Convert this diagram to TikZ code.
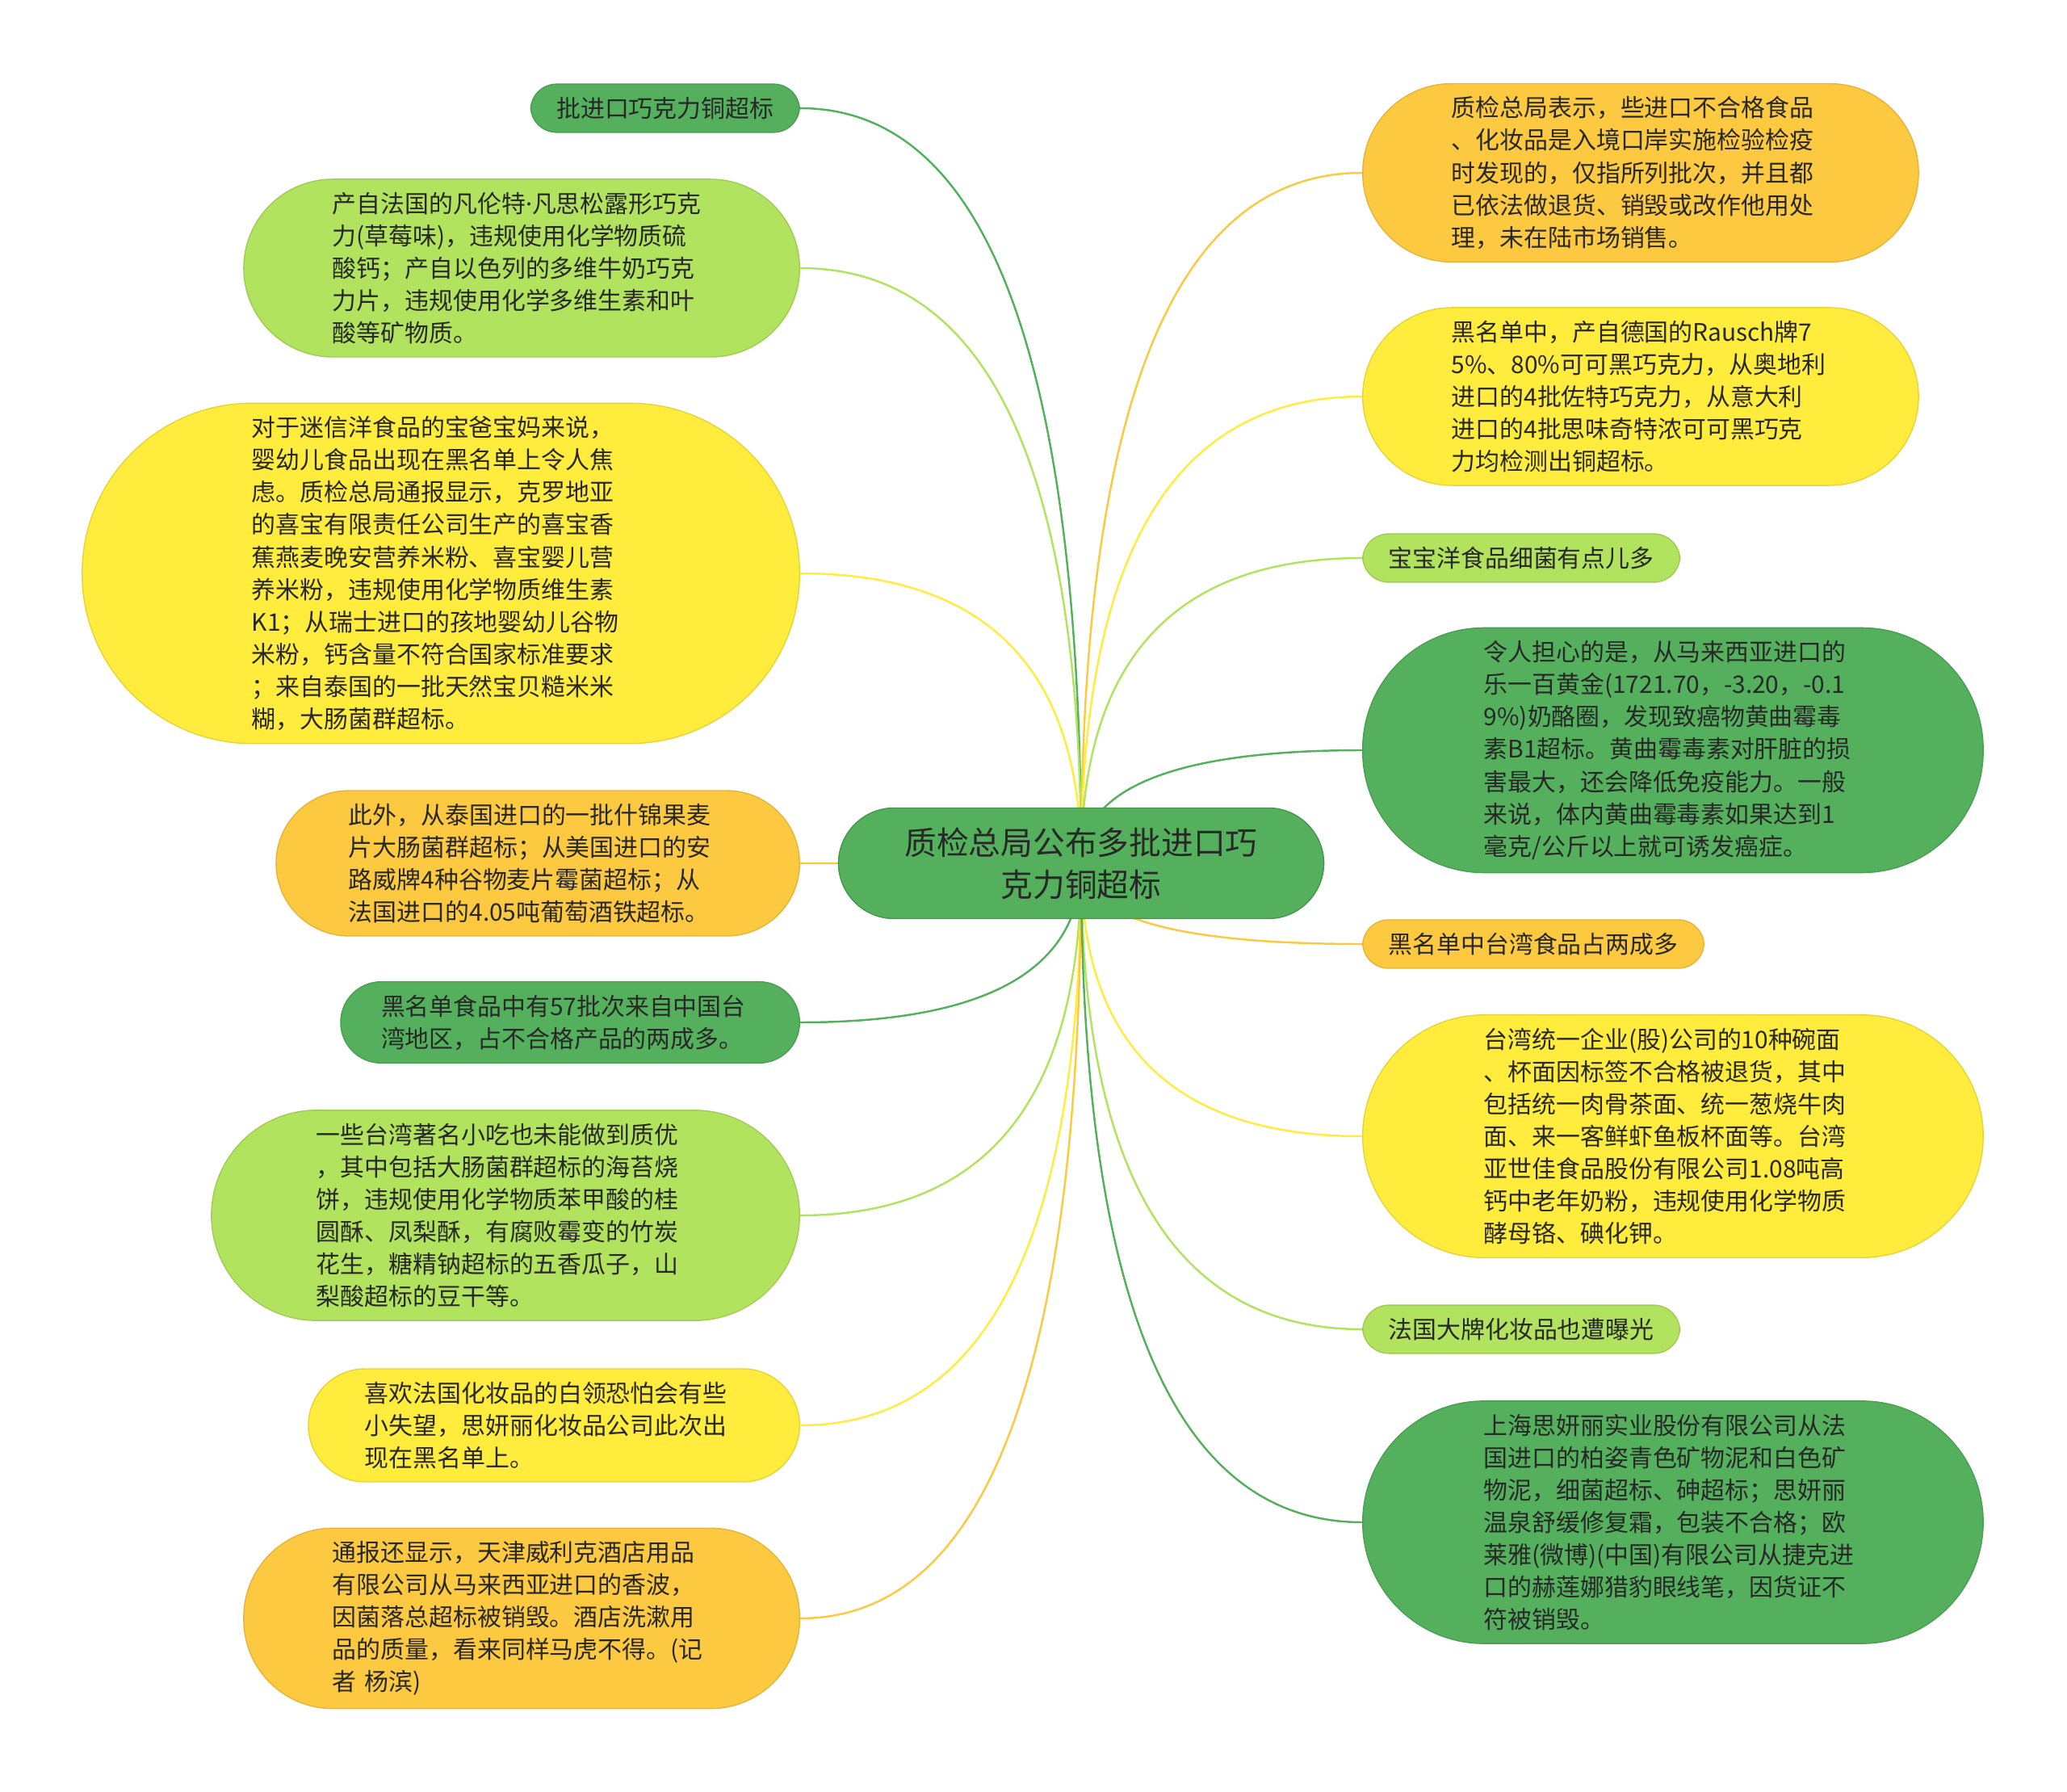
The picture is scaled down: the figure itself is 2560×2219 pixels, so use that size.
\documentclass[tikz,border=0pt]{standalone}
\usepackage{fontspec}
\setmainfont{Noto Sans CJK SC}
\newfontfamily\latinfont{Noto Sans}
\usepackage{tikz}
\usetikzlibrary{positioning, calc, backgrounds}
\usepackage{xcolor}
\definecolor{mgreen}{RGB}{84,176,92}
\definecolor{lgreen}{RGB}{178,227,94}
\definecolor{myellow}{RGB}{255,236,61}
\definecolor{morange}{RGB}{252,201,64}
\definecolor{ink}{RGB}{40,40,40}

\begin{document}
\begin{tikzpicture}[x=0.01cm, y=-0.01cm,
  leaf/.style={rectangle, rounded corners=#1, inner xsep=#1, inner ysep=0.16cm, align=left,
    text=ink, font=\fontsize{8.5}{11.4}\selectfont},
  wide/.style={text width=4.68cm},
  topic/.style={rectangle, rounded corners=0.69cm, inner xsep=0.82cm, inner ysep=0.24cm, align=center,
    text=ink, font=\fontsize{11.3}{14.8}\selectfont, fill=mgreen, draw=mgreen!85!black},
  gr/.style={fill=mgreen, draw=mgreen!90!black},
  lg/.style={fill=lgreen, draw=lgreen!90!black},
  ye/.style={fill=myellow, draw=myellow!90!black},
  or/.style={fill=morange, draw=morange!90!black},
  link/.style={line width=0.7pt}]
  \useasboundingbox (0,0) rectangle (2560,2219);

  % centre
  \node[topic] (root) at (1339,1069) {质检总局公布多批进口巧\\克力铜超标};

  % left branches
  \node[leaf=0.32cm, gr, anchor=east] (l1) at (991,134) {批进口巧克力铜超标};
  \node[leaf=1.10cm, wide, lg, anchor=east] (l2) at (991,332) {产自法国的凡伦特{\latinfont ·}凡思松露形巧克\\力(草莓味)，违规使用化学物质硫\\酸钙；产自以色列的多维牛奶巧克\\力片，违规使用化学多维生素和叶\\酸等矿物质。};
  \node[leaf=2.10cm, wide, ye, anchor=east] (l3) at (991,710) {对于迷信洋食品的宝爸宝妈来说，\\婴幼儿食品出现在黑名单上令人焦\\虑。质检总局通报显示，克罗地亚\\的喜宝有限责任公司生产的喜宝香\\蕉燕麦晚安营养米粉、喜宝婴儿营\\养米粉，违规使用化学物质维生素\\K1；从瑞士进口的孩地婴幼儿谷物\\米粉，钙含量不符合国家标准要求\\；来自泰国的一批天然宝贝糙米米\\糊，大肠菌群超标。};
  \node[leaf=0.90cm, wide, or, anchor=east] (l4) at (991,1069) {此外，从泰国进口的一批什锦果麦\\片大肠菌群超标；从美国进口的安\\路威牌4种谷物麦片霉菌超标；从\\法国进口的4.05吨葡萄酒铁超标。};
  \node[leaf=0.50cm, wide, gr, anchor=east] (l5) at (991,1266) {黑名单食品中有57批次来自中国台\\湾地区，占不合格产品的两成多。};
  \node[leaf=1.30cm, wide, lg, anchor=east] (l6) at (991,1505) {一些台湾著名小吃也未能做到质优\\，其中包括大肠菌群超标的海苔烧\\饼，违规使用化学物质苯甲酸的桂\\圆酥、凤梨酥，有腐败霉变的竹炭\\花生，糖精钠超标的五香瓜子，山\\梨酸超标的豆干等。};
  \node[leaf=0.70cm, wide, ye, anchor=east] (l7) at (991,1765) {喜欢法国化妆品的白领恐怕会有些\\小失望，思妍丽化妆品公司此次出\\现在黑名单上。};
  \node[leaf=1.10cm, wide, or, anchor=east] (l8) at (991,2004) {通报还显示，天津威利克酒店用品\\有限公司从马来西亚进口的香波，\\因菌落总超标被销毁。酒店洗漱用\\品的质量，看来同样马虎不得。(记\\者 杨滨)};

  % right branches
  \node[leaf=1.10cm, wide, or, anchor=west] (r1) at (1687,214) {质检总局表示，些进口不合格食品\\、化妆品是入境口岸实施检验检疫\\时发现的，仅指所列批次，并且都\\已依法做退货、销毁或改作他用处\\理，未在陆市场销售。};
  \node[leaf=1.10cm, wide, ye, anchor=west] (r2) at (1687,491) {黑名单中，产自德国的Rausch牌7\\5\%、80\%可可黑巧克力，从奥地利\\进口的4批佐特巧克力，从意大利\\进口的4批思味奇特浓可可黑巧克\\力均检测出铜超标。};
  \node[leaf=0.32cm, lg, anchor=west] (r3) at (1687,691) {宝宝洋食品细菌有点儿多};
  \node[leaf=1.50cm, wide, gr, anchor=west] (r4) at (1687,929) {令人担心的是，从马来西亚进口的\\乐一百黄金(1721.70，-3.20，-0.1\\9\%)奶酪圈，发现致癌物黄曲霉毒\\素B1超标。黄曲霉毒素对肝脏的损\\害最大，还会降低免疫能力。一般\\来说，体内黄曲霉毒素如果达到1\\毫克/公斤以上就可诱发癌症。};
  \node[leaf=0.32cm, or, anchor=west] (r5) at (1687,1169) {黑名单中台湾食品占两成多};
  \node[leaf=1.50cm, wide, ye, anchor=west] (r6) at (1687,1407) {台湾统一企业(股)公司的10种碗面\\、杯面因标签不合格被退货，其中\\包括统一肉骨茶面、统一葱烧牛肉\\面、来一客鲜虾鱼板杯面等。台湾\\亚世佳食品股份有限公司1.08吨高\\钙中老年奶粉，违规使用化学物质\\酵母铬、碘化钾。};
  \node[leaf=0.32cm, lg, anchor=west] (r7) at (1687,1646) {法国大牌化妆品也遭曝光};
  \node[leaf=1.50cm, wide, gr, anchor=west] (r8) at (1687,1885) {上海思妍丽实业股份有限公司从法\\国进口的柏姿青色矿物泥和白色矿\\物泥，细菌超标、砷超标；思妍丽\\温泉舒缓修复霜，包装不合格；欧\\莱雅(微博)(中国)有限公司从捷克进\\口的赫莲娜猎豹眼线笔，因货证不\\符被销毁。};

  % connectors, behind the boxes
  \begin{scope}[on background layer]
    \foreach \n/\c/\a in {l1/mgreen/east, l2/lgreen/east, l3/myellow/east, l4/morange/east,
        l5/mgreen/east, l6/lgreen/east, l7/myellow/east, l8/morange/east,
        r1/morange/west, r2/myellow/west, r3/lgreen/west, r4/mgreen/west,
        r5/morange/west, r6/myellow/west, r7/lgreen/west, r8/mgreen/west} {
      \draw[link, \c] (root.center)
        .. controls ($(root.center)!.667!(root.center |- \n.\a)$)
        and ($(\n.\a)!.667!(root.center |- \n.\a)$) .. (\n.\a);
    }
  \end{scope}
\end{tikzpicture}
\end{document}
